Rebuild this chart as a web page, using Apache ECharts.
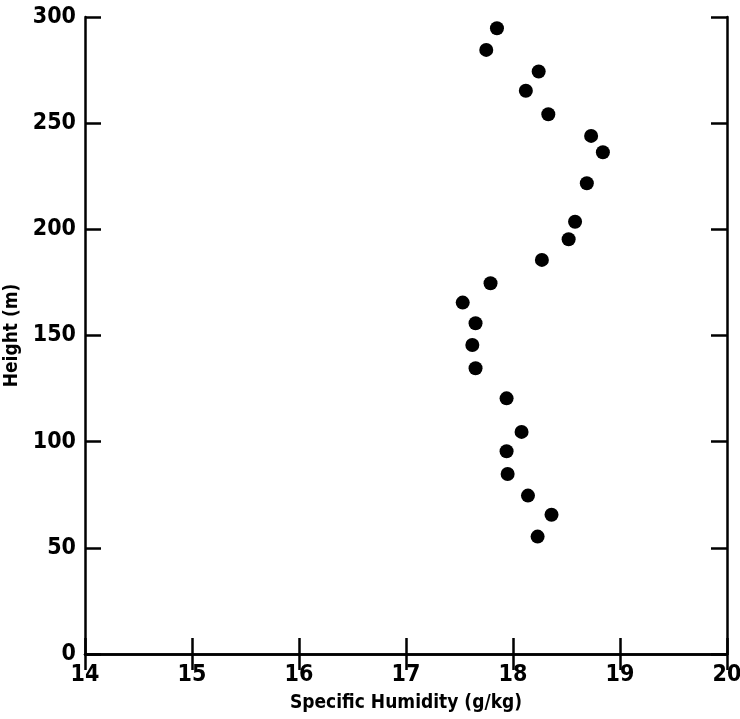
<!DOCTYPE html>
<html>
<head>
<meta charset="utf-8">
<script src="https://cdn.jsdelivr.net/npm/echarts@6/dist/echarts.min.js"></script>
<style>html,body{margin:0;padding:0;background:#fff;}#c{width:740px;height:719px;}</style>
</head>
<body>
<div id="c"></div>
<script>
const humidity = [17.85, 17.75, 18.24, 18.12, 18.33, 18.73, 18.84, 18.69, 18.58, 18.52, 18.27, 17.79, 17.53, 17.65, 17.62, 17.65, 17.94, 18.08, 17.94, 17.95, 18.14, 18.36, 18.23];
const height = [294.7, 284.5, 274.3, 265.3, 254.2, 244, 236.3, 221.7, 203.6, 195.3, 185.6, 174.6, 165.5, 155.8, 145.5, 134.6, 120.4, 104.6, 95.5, 84.8, 74.6, 65.6, 55.3];
const xTitle = 'Specific Humidity (g/kg)';
const yTitle = 'Height (m)';

const font = "'Liberation Sans Narrow', 'DejaVu Sans Condensed', 'Liberation Sans', sans-serif";
const lineStyle = {color: '#000', width: 2.5};
const chart = echarts.init(document.getElementById('c'));
const pts = humidity.map((v, i) => [v, height[i]]);
chart.setOption({
  animation: false,
  backgroundColor: '#fff',
  grid: {left: 85, right: 13, top: 17, bottom: 65, containLabel: false, outerBoundsMode: 'none'},
  xAxis: [{
    type: 'value', min: 14, max: 20, interval: 1, position: 'bottom',
    name: xTitle, nameLocation: 'middle', nameGap: 40,
    nameTextStyle: {fontFamily: font, fontSize: 19, fontWeight: 'bold', color: '#000'},
    axisLine: {show: true, lineStyle: lineStyle},
    axisTick: {show: true, inside: true, length: 16, lineStyle: lineStyle},
    axisLabel: {fontFamily: font, fontSize: 23, fontWeight: 'bold', color: '#000', margin: 10},
    splitLine: {show: false}
  }, {
    type: 'value', min: 14, max: 20, interval: 1, position: 'top',
    axisLine: {show: true, lineStyle: lineStyle},
    axisTick: {show: true, inside: true, length: 16, lineStyle: lineStyle},
    axisLabel: {show: false}, splitLine: {show: false}
  }],
  yAxis: [{
    type: 'value', min: 0, max: 300, interval: 50, position: 'left',
    name: yTitle, nameLocation: 'middle', nameGap: 58, nameRotate: 90,
    nameTextStyle: {fontFamily: font, fontSize: 19, fontWeight: 'bold', color: '#000'},
    axisLine: {show: true, lineStyle: lineStyle},
    axisTick: {show: true, inside: true, length: 16, lineStyle: lineStyle},
    axisLabel: {fontFamily: font, fontSize: 23, fontWeight: 'bold', color: '#000', margin: 9},
    splitLine: {show: false}
  }, {
    type: 'value', min: 0, max: 300, interval: 50, position: 'right',
    axisLine: {show: true, lineStyle: lineStyle},
    axisTick: {show: true, inside: true, length: 16, lineStyle: lineStyle},
    axisLabel: {show: false}, splitLine: {show: false}
  }],
  series: [{
    type: 'scatter',
    xAxisIndex: 0, yAxisIndex: 0,
    data: pts,
    symbol: 'circle', symbolSize: 14,
    itemStyle: {color: '#000', opacity: 1}
  }]
});
</script>
</body>
</html>
